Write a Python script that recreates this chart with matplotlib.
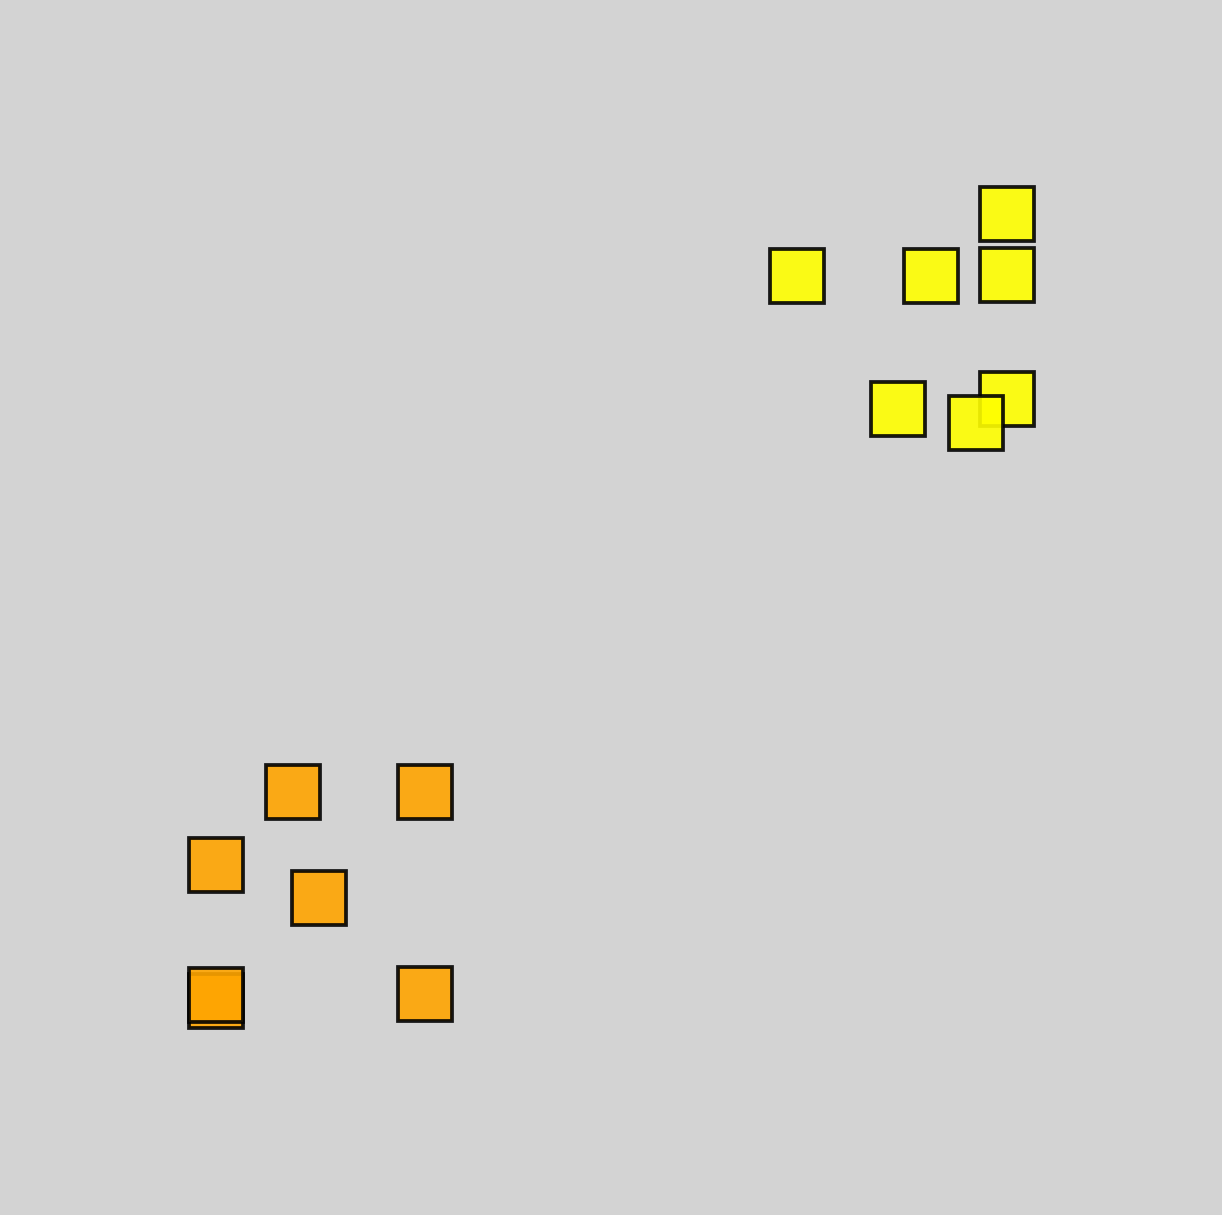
import matplotlib
matplotlib.use("Agg")
import matplotlib.pyplot as plt

# cluster A (yellow)
xa = [82.4, 65.2, 76.2, 82.4, 82.4, 73.5, 79.9]
ya = [82.4, 77.3, 77.3, 77.4, 67.2, 66.3, 65.2]

# cluster B (orange)
xb = [24.0, 34.8, 17.7, 26.1, 17.7, 17.7, 34.8]
yb = [34.8, 34.8, 28.8, 26.1, 17.65, 18.1, 18.2]

fig = plt.figure(figsize=(12.22, 12.15), dpi=100, facecolor='lightgray')
ax = fig.add_axes([0, 0, 1, 1])
ax.set_facecolor('lightgray')

for x, y in zip(xa, ya):
    ax.plot(x, y, 's', ms=38.5, color='yellow', markeredgecolor='black',
            markeredgewidth=2.7, alpha=0.9)
for x, y in zip(xb, yb):
    ax.plot(x, y, 's', ms=38.5, color='orange', markeredgecolor='black',
            markeredgewidth=2.7, alpha=0.9)

ax.set_xlim(0, 100)
ax.set_ylim(0, 100)
ax.axis('off')

fig.savefig('out.png', dpi=100, facecolor='lightgray')
